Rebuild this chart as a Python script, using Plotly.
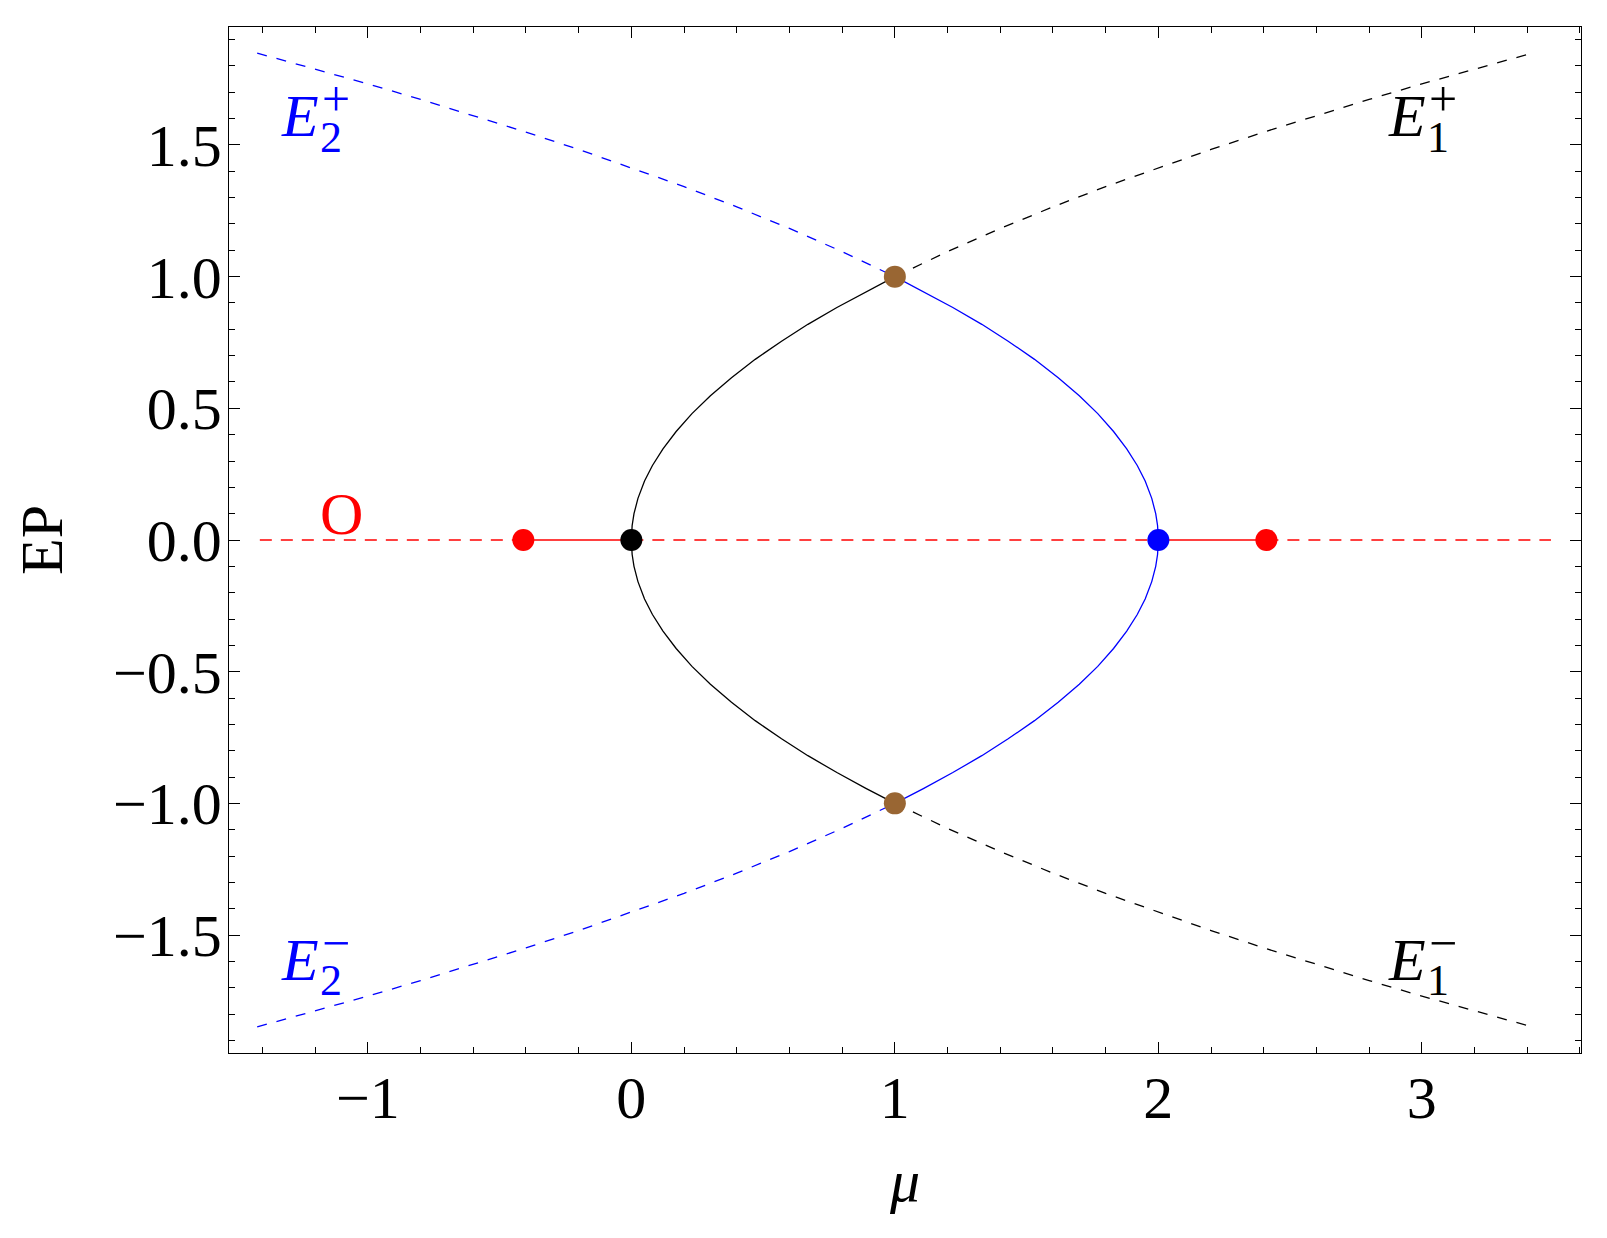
import plotly.graph_objects as go

# ---- data ----
# lens, black half: (1,1) -> (0,0) -> (1,-1)
lens_black_mu = [1.0, 0.89, 0.78, 0.67, 0.57, 0.47, 0.38, 0.3, 0.23, 0.17, 0.12, 0.08, 0.05, 0.025, 0.01, 0.003, 0.0,
                 0.003, 0.01, 0.025, 0.05, 0.08, 0.12, 0.17, 0.23, 0.3, 0.38, 0.47, 0.57, 0.67, 0.78, 0.89, 1.0]
lens_black_ep = [1.0, 0.943, 0.883, 0.819, 0.755, 0.686, 0.616, 0.548, 0.48, 0.412, 0.346, 0.283, 0.224, 0.158, 0.1, 0.055, 0.0,
                 -0.055, -0.1, -0.158, -0.224, -0.283, -0.346, -0.412, -0.48, -0.548, -0.616, -0.686, -0.755, -0.819, -0.883, -0.943, -1.0]
# lens, blue half: (1,1) -> (2,0) -> (1,-1)
lens_blue_mu = [1.0, 1.11, 1.22, 1.33, 1.43, 1.53, 1.62, 1.7, 1.77, 1.83, 1.88, 1.92, 1.95, 1.975, 1.99, 1.997, 2.0,
                1.997, 1.99, 1.975, 1.95, 1.92, 1.88, 1.83, 1.77, 1.7, 1.62, 1.53, 1.43, 1.33, 1.22, 1.11, 1.0]
lens_blue_ep = lens_black_ep

# dashed branches
e1_mu = [1.0, 1.2, 1.4, 1.6, 1.8, 2.0, 2.2, 2.4, 2.6, 2.8, 3.0, 3.2, 3.42]
e1_plus = [1.0, 1.095, 1.183, 1.265, 1.342, 1.414, 1.483, 1.549, 1.612, 1.673, 1.732, 1.789, 1.849]
e1_minus = [-1.0, -1.095, -1.183, -1.265, -1.342, -1.414, -1.483, -1.549, -1.612, -1.673, -1.732, -1.789, -1.849]
e2_mu = [-1.42, -1.2, -1.0, -0.8, -0.6, -0.4, -0.2, 0.0, 0.2, 0.4, 0.6, 0.8, 1.0]
e2_plus = [1.849, 1.789, 1.732, 1.673, 1.612, 1.549, 1.483, 1.414, 1.342, 1.265, 1.183, 1.095, 1.0]
e2_minus = [-1.849, -1.789, -1.732, -1.673, -1.612, -1.549, -1.483, -1.414, -1.342, -1.265, -1.183, -1.095, -1.0]

# origin branch (EP = 0)
o_dash_segments = [[-1.41, -0.41], [0.0, 2.0], [2.41, 3.49]]
o_solid_segments = [[-0.41, 0.0], [2.0, 2.41]]

# special points
red_pts_mu = [-0.41, 2.41]
black_pt = (0.0, 0.0)
blue_pt = (2.0, 0.0)
brown_pts_mu = [1.0, 1.0]
brown_pts_ep = [1.0, -1.0]

BROWN = "#996633"
FONT = "Liberation Serif, Times New Roman, serif"

fig = go.Figure()


def add_line(x, y, color, dash="solid", width=1.3):
    fig.add_trace(go.Scatter(x=x, y=y, mode="lines", hoverinfo="skip",
                             line=dict(color=color, width=width, dash=dash)))


for seg in o_dash_segments:
    add_line(seg, [0, 0], "red", dash="12px,9px", width=1.5)
for seg in o_solid_segments:
    add_line(seg, [0, 0], "red", width=1.5)

add_line(lens_black_mu, lens_black_ep, "black")
add_line(lens_blue_mu, lens_blue_ep, "blue")
add_line(e1_mu, e1_plus, "black", dash="10px,10px")
add_line(e1_mu, e1_minus, "black", dash="10px,10px")
add_line(e2_mu, e2_plus, "blue", dash="10px,10px")
add_line(e2_mu, e2_minus, "blue", dash="10px,10px")


def add_pts(x, y, color):
    fig.add_trace(go.Scatter(x=x, y=y, mode="markers", hoverinfo="skip",
                             marker=dict(color=color, size=22, line=dict(width=0))))


add_pts(red_pts_mu, [0, 0], "red")
add_pts([black_pt[0]], [black_pt[1]], "black")
add_pts([blue_pt[0]], [blue_pt[1]], "blue")
add_pts(brown_pts_mu, brown_pts_ep, BROWN)

# curve labels: E with stacked sub/superscript
labels = [
    (-1.259, 1.609, "2", "+", "blue"),
    (2.942, 1.609, "1", "+", "black"),
    (-1.259, -1.593, "2", "\u2212", "blue"),
    (2.942, -1.593, "1", "\u2212", "black"),
]
for x, y, sub, sup, col in labels:
    fig.add_annotation(x=x, y=y, text="<i>E</i>", showarrow=False,
                       font=dict(family=FONT, size=60, color=col),
                       xanchor="center", yanchor="middle")
    fig.add_annotation(x=x, y=y, text=sub, showarrow=False, xshift=31, yshift=-21,
                       font=dict(family=FONT, size=44, color=col),
                       xanchor="center", yanchor="middle")
    fig.add_annotation(x=x, y=y, text=sup, showarrow=False, xshift=36, yshift=17,
                       font=dict(family=FONT, size=50, color=col),
                       xanchor="center", yanchor="middle")

fig.add_annotation(x=-1.101, y=0.099, text="O", showarrow=False,
                   font=dict(family=FONT, size=60, color="red"),
                   xanchor="center", yanchor="middle")

axis_common = dict(
    showline=True, mirror="allticks", linecolor="black", linewidth=1.3,
    ticks="inside", ticklen=11, tickwidth=1.2, tickcolor="black",
    showgrid=False, zeroline=False,
    tickfont=dict(family=FONT, size=60, color="black"),
)

fig.update_xaxes(
    range=[-1.527, 3.604],
    tickvals=[-1, 0, 1, 2, 3],
    ticktext=["\u22121", "0", "1", "2", "3"],
    ticklabelstandoff=-8,
    minor=dict(dtick=0.2, tick0=0, ticks="inside", ticklen=6, tickwidth=1.2, tickcolor="black"),
    title=dict(text="<i>\u03bc</i>", font=dict(family=FONT, size=60, color="black"), standoff=28),
    **axis_common,
)
fig.update_yaxes(
    range=[-1.948, 1.948],
    tickvals=[-1.5, -1.0, -0.5, 0.0, 0.5, 1.0, 1.5],
    ticktext=["\u22121.5", "\u22121.0", "\u22120.5", "0.0", "0.5", "1.0", "1.5"],
    ticklabelstandoff=-6,
    minor=dict(dtick=0.1, tick0=0, ticks="inside", ticklen=6, tickwidth=1.2, tickcolor="black"),
    title=dict(text="EP", font=dict(family=FONT, size=60, color="black"), standoff=31),
    **axis_common,
)

# the page body adds an 8 px offset, so the margins are shifted to compensate
fig.update_layout(
    width=1607, height=1238,
    margin=dict(l=221, r=34, t=19, b=193),
    plot_bgcolor="white", paper_bgcolor="white",
    showlegend=False,
)

fig.write_html("out.html")
